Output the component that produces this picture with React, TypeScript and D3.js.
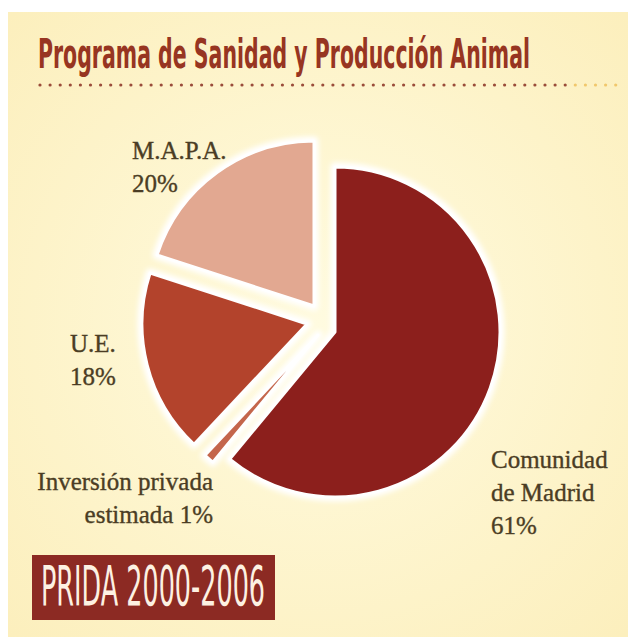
import * as d3 from "d3";
import { useLayoutEffect, useMemo, useRef, useState } from "react";

const WIDTH = 628;
const HEIGHT = 637;

// data, clockwise from 12 o'clock
const categories = [
  "Comunidad de Madrid",
  "Inversión privada estimada",
  "U.E.",
  "M.A.P.A.",
];
const shares = [61, 1, 18, 20];

const TITLE = "Programa de Sanidad y Producción Animal";
const BADGE = "PRIDA 2000-2006";

const SLICE_COLOR: Record<string, string> = {
  "Comunidad de Madrid": "#8c1f1c",
  "Inversión privada estimada": "#c4664c",
  "U.E.": "#b3432c",
  "M.A.P.A.": "#e2a891",
};

// exploded offsets of each slice, in px
const SLICE_SHIFT: Record<string, [number, number]> = {
  "Comunidad de Madrid": [15, 12],
  "Inversión privada estimada": [-2, 15],
  "U.E.": [-13, 4],
  "M.A.P.A.": [-6, -14],
};

// label lines and where they sit
const LABELS: {
  key: string;
  lines: string[];
  x: number;
  y: number;
  anchor: "start" | "end";
}[] = [
  { key: "M.A.P.A.", lines: ["M.A.P.A.", "20%"], x: 132, y: 159, anchor: "start" },
  { key: "U.E.", lines: ["U.E.", "18%"], x: 70, y: 352, anchor: "start" },
  {
    key: "Inversión privada estimada",
    lines: ["Inversión privada", "estimada 1%"],
    x: 213,
    y: 490,
    anchor: "end",
  },
  {
    key: "Comunidad de Madrid",
    lines: ["Comunidad", "de Madrid", "61%"],
    x: 491,
    y: 468,
    anchor: "start",
  },
];

const CENTER = { x: 320, y: 320 };
const RADIUS = 165;

const TITLE_WIDTH = 492;
const BADGE_WIDTH = 224;

export default function App() {
  const titleRef = useRef<SVGTextElement>(null);
  const badgeRef = useRef<SVGTextElement>(null);
  const [titleScale, setTitleScale] = useState(0.5);
  const [badgeScale, setBadgeScale] = useState(0.45);

  // squeeze the display texts to the condensed width of the original
  useLayoutEffect(() => {
    if (titleRef.current) {
      setTitleScale(TITLE_WIDTH / titleRef.current.getComputedTextLength());
    }
    if (badgeRef.current) {
      setBadgeScale(BADGE_WIDTH / badgeRef.current.getComputedTextLength());
    }
  }, []);

  const slices = useMemo(() => {
    const pie = d3
      .pie<number>()
      .sort(null)
      .value((d) => d)
      .startAngle(0)
      .endAngle(2 * Math.PI);
    return pie(shares).map((a, i) => ({ ...a, name: categories[i] }));
  }, []);

  const arc = d3
    .arc<d3.PieArcDatum<number>>()
    .innerRadius(0)
    .outerRadius(RADIUS);

  const dots = d3.range(40, 616, 10.1);

  return (
    <svg
      width={WIDTH}
      height={HEIGHT}
      style={{ position: "absolute", left: 0, top: 0 }}
    >
      <defs>
        <radialGradient id="bg" cx="0.5" cy="0.5" r="0.7">
          <stop offset="0%" stopColor="#fffbe0" />
          <stop offset="100%" stopColor="#fcefbd" />
        </radialGradient>
        <filter id="glow" x="-20%" y="-20%" width="140%" height="140%">
          <feGaussianBlur stdDeviation="2.5" />
        </filter>
      </defs>

      <rect width={WIDTH} height={HEIGHT} fill="#ffffff" />
      <rect x={8} y={12} width={WIDTH - 8} height={HEIGHT - 12} fill="url(#bg)" />

      {/* title */}
      <text
        ref={titleRef}
        transform={`translate(38,68) scale(${titleScale},1)`}
        fontFamily="DejaVu Sans"
        fontWeight="bold"
        fontSize={41}
        fill="#973521"
      >
        {TITLE}
      </text>
      <g>
        {dots.map((x) => (
          <circle
            key={x}
            cx={x}
            cy={85}
            r={1.6}
            fill={x < 566 ? "#8f3a2a" : "#efbf5c"}
            opacity={x < 566 ? 0.9 : 0.85}
          />
        ))}
      </g>

      {/* pie */}
      <g transform={`translate(${CENTER.x},${CENTER.y})`}>
        {slices.map((s) => {
          const [dx, dy] = SLICE_SHIFT[s.name];
          return (
            <g key={s.name} transform={`translate(${dx},${dy})`}>
              <path
                d={arc(s) ?? ""}
                fill="#ffffff"
                stroke="#ffffff"
                strokeWidth={9}
                strokeLinejoin="round"
                filter="url(#glow)"
              />
              <path
                d={arc(s) ?? ""}
                fill={SLICE_COLOR[s.name]}
                stroke="#ffffff"
                strokeWidth={3}
                strokeLinejoin="round"
              />
            </g>
          );
        })}
      </g>

      {/* labels */}
      <g
        fontFamily="Liberation Serif"
        fontSize={25}
        fill="#4b3d24"
        stroke="#4b3d24"
        strokeWidth={0.35}
      >
        {LABELS.map((l) => (
          <text key={l.key} x={l.x} y={l.y} textAnchor={l.anchor}>
            {l.lines.map((line, i) => (
              <tspan key={i} x={l.x} y={l.y + i * 33}>
                {line}
              </tspan>
            ))}
          </text>
        ))}
      </g>

      {/* badge */}
      <rect x={32} y={555} width={243} height={65} fill="#8c2a23" />
      <text
        ref={badgeRef}
        transform={`translate(41,605) scale(${badgeScale},1)`}
        fontFamily="DejaVu Sans"
        fontSize={55}
        fill="#fdf1e2"
      >
        {BADGE}
      </text>
    </svg>
  );
}
